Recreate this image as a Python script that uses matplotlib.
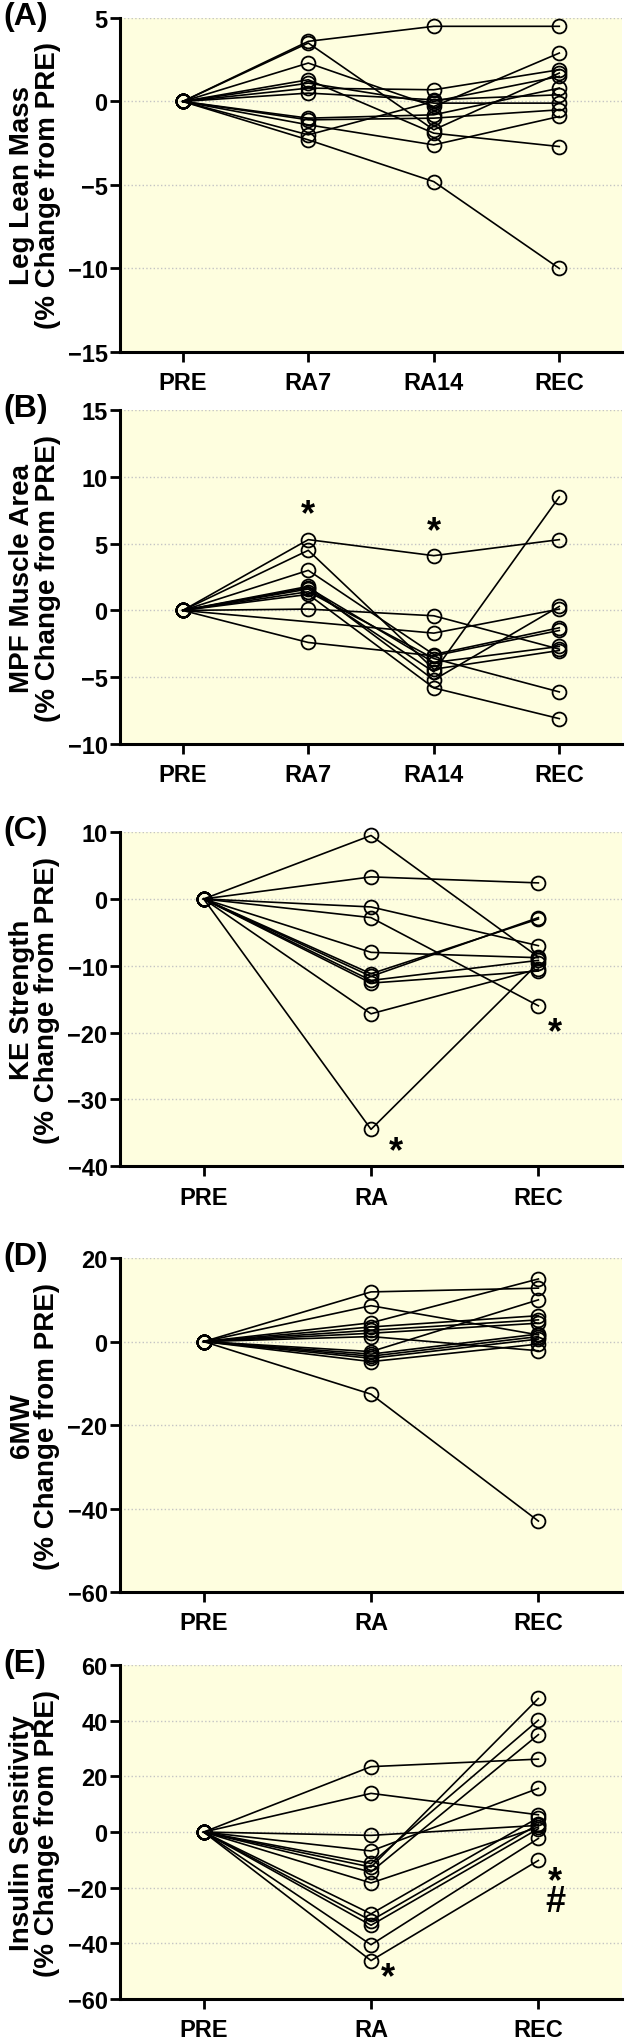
import numpy as np
import matplotlib
matplotlib.use("Agg")
import matplotlib.pyplot as plt

plt.rcParams['font.family'] = ['Liberation Sans', 'DejaVu Sans']
plt.rcParams['font.weight'] = 'bold'

nan = np.nan

# (A) Leg lean mass, % change from PRE
a_labels = ["PRE", "RA7", "RA14", "REC"]
a_pre = [0, 0, 0, 0, 0, 0, 0, 0, 0, 0, 0, 0]
a_ra7 = [3.6, 3.5, 2.3, 1.3, 0.8, 0.5, 1.1, -1.0, -1.1, -2.0, -1.4, -2.3]
a_ra14 = [4.5, -1.7, -0.3, -1.9, 0.7, 0.1, -0.1, -0.8, -1.0, 0.0, -2.6, -4.8]
a_rec = [4.5, 1.7, 2.9, -2.7, 1.9, 0.4, -0.1, 0.8, -0.5, 1.5, -0.9, -10.0]

# (B) MPF muscle area
b_labels = ["PRE", "RA7", "RA14", "REC"]
b_pre = [0, 0, 0, 0, 0, 0, 0, 0, 0, 0, 0]
b_ra7 = [5.3, 4.5, 3.0, 1.8, 1.6, 1.4, 1.2, 1.7, 0.1, -2.4, nan]
b_ra14 = [4.1, -4.4, -3.3, -5.2, -4.6, -3.6, -5.8, -3.9, -0.4, -3.4, -1.7]
b_rec = [5.3, -3.0, -1.3, 0.3, 8.5, -6.1, -8.1, -2.7, -2.9, -1.5, 0.1]

# (C) KE strength
c_labels = ["PRE", "RA", "REC"]
c_pre = [0, 0, 0, 0, 0, 0, 0, 0, 0, 0, 0]
c_ra = [9.5, 3.3, -1.2, -2.8, -8.0, -11.2, -11.6, -12.2, -12.6, -17.2, -34.5]
c_rec = [-8.7, 2.4, -7.0, -16.0, -8.8, -3.0, -2.8, -9.2, -10.8, -10.5, -9.6]

# (D) 6MW
d_labels = ["PRE", "RA", "REC"]
d_pre = [0, 0, 0, 0, 0, 0, 0, 0, 0, 0, 0, 0, 0]
d_ra = [11.9, 8.6, 4.5, 3.5, 2.7, 2.0, 1.2, -2.4, -3.0, -3.5, -4.0, -4.8, -12.6]
d_rec = [12.8, 1.6, 15.0, 6.2, 5.2, 4.4, -2.2, 10.0, 1.8, 1.2, 0.6, -0.6, -43.0]

# (E) Insulin sensitivity
e_labels = ["PRE", "RA", "REC"]
e_pre = [0, 0, 0, 0, 0, 0, 0, 0, 0, 0, 0, 0, 0]
e_ra = [23.5, 13.9, -1.2, -6.8, -11.3, -12.6, -14.3, -18.3, -29.4, -31.8, -33.5, -40.5, -46.2]
e_rec = [26.2, 6.2, 2.4, 15.7, 40.2, 48.0, 35.0, 1.8, 5.2, 2.8, 1.2, -2.3, -10.2]


def draw_panel(ax, labels, series, ylim, yticks, ylabel, letter, stars):
    data = np.array(series, dtype=float).T
    x = np.arange(len(labels))
    for row in data:
        ok = ~np.isnan(row)
        ax.plot(x[ok], row[ok], color='black', lw=1.2, marker='o', ms=10,
                mfc='none', mec='black', mew=1.3, zorder=3, clip_on=False)
    ax.set_facecolor('#FEFEDF')
    ax.set_xlim(-0.5, len(labels) - 0.5)
    ax.set_ylim(*ylim)
    ax.set_yticks(yticks)
    ax.set_xticks(x)
    ax.set_xticklabels(labels, fontsize=17, fontweight='bold')
    ax.tick_params(axis='y', labelsize=17, width=2, length=7, pad=2)
    ax.tick_params(axis='x', width=2, length=7, pad=7)
    for lab in ax.get_yticklabels():
        lab.set_fontweight('bold')
    ax.spines['top'].set_visible(False)
    ax.spines['right'].set_visible(False)
    ax.spines['left'].set_linewidth(2.2)
    ax.spines['bottom'].set_linewidth(2.2)
    ax.yaxis.grid(True, linestyle=':', color='#C4C4C4', lw=1)
    ax.set_axisbelow(True)
    ax.set_ylabel(ylabel, fontsize=20, fontweight='bold', labelpad=5,
                  linespacing=0.98)
    for sx, sy, s in stars:
        ax.text(sx, sy, s, fontsize=26, fontweight='bold', ha='center',
                va='center', zorder=4, linespacing=0.45)
    pos = ax.get_position()
    fig.text(0.006, pos.y1 + 0.0085, letter, fontsize=23, fontweight='bold',
             ha='left', va='top')


fig = plt.figure(figsize=(6.26, 20.4), dpi=100)
left, width, height = 0.1917, 0.802, 0.1637
bottoms = [0.8270, 0.6348, 0.4279, 0.2191, 0.0196]
axes = [fig.add_axes([left, b, width, height]) for b in bottoms]

draw_panel(axes[0], a_labels, [a_pre, a_ra7, a_ra14, a_rec], (-15, 5),
           [-15, -10, -5, 0, 5], "Leg Lean Mass\n(% Change from PRE)", "(A)", [])
draw_panel(axes[1], b_labels, [b_pre, b_ra7, b_ra14, b_rec], (-10, 15),
           [-10, -5, 0, 5, 10, 15], "MPF Muscle Area\n(% Change from PRE)", "(B)",
           [(1, 7.2, "*"), (2, 5.9, "*")])
draw_panel(axes[2], c_labels, [c_pre, c_ra, c_rec], (-40, 10),
           [-40, -30, -20, -10, 0, 10], "KE Strength\n(% Change from PRE)", "(C)",
           [(1.15, -37.8, "*"), (2.1, -20.0, "*")])
draw_panel(axes[3], d_labels, [d_pre, d_ra, d_rec], (-60, 20),
           [-60, -40, -20, 0, 20], "6MW\n(% Change from PRE)", "(D)", [])
draw_panel(axes[4], e_labels, [e_pre, e_ra, e_rec], (-60, 60),
           [-60, -40, -20, 0, 20, 40, 60], "Insulin Sensitivity\n(% Change from PRE)", "(E)",
           [(1.1, -52.5, "*"), (2.1, -21.5, "*\n#")])

fig.savefig("out.png", dpi=100)
